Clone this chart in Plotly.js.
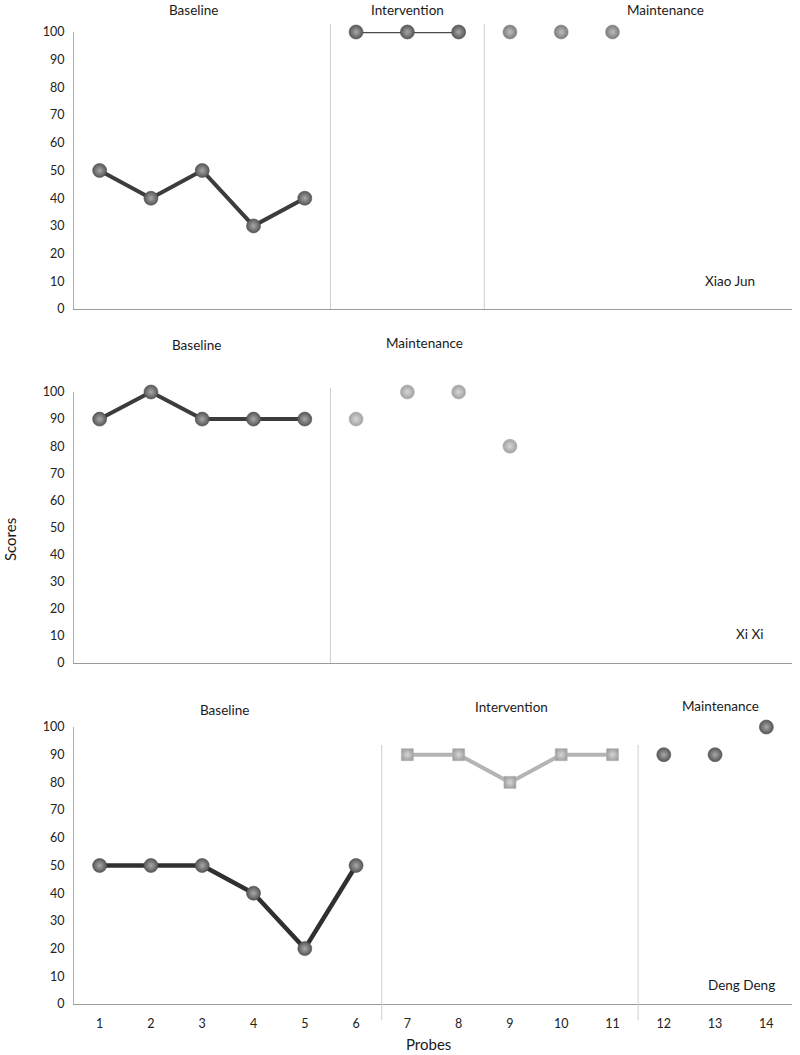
<!DOCTYPE html>
<html>
<head>
<meta charset="utf-8">
<script src="https://cdn.plot.ly/plotly-3.0.1.min.js"></script>
<style>html,body{margin:0;padding:0;background:#fff;}#chart{width:800px;height:1055px;}</style>
</head>
<body>
<div id="chart"></div>
<script>
// ---- Data ----
const probes = [1,2,3,4,5,6,7,8,9,10,11,12,13,14];
const probeLabels = ["1","2","3","4","5","6","7","8","9","10","11","12","13","14"];
const yTicks = [0,10,20,30,40,50,60,70,80,90,100];

// Xiao Jun
const xjBaselineX = [1,2,3,4,5];
const xjBaselineY = [50,40,50,30,40];
const xjInterventionX = [6,7,8];
const xjInterventionY = [100,100,100];
const xjMaintenanceX = [9,10,11];
const xjMaintenanceY = [100,100,100];

// Xi Xi
const xxBaselineX = [1,2,3,4,5];
const xxBaselineY = [90,100,90,90,90];
const xxMaintenanceX = [6,7,8,9];
const xxMaintenanceY = [90,100,100,80];

// Deng Deng
const ddBaselineX = [1,2,3,4,5,6];
const ddBaselineY = [50,50,50,40,20,50];
const ddInterventionX = [7,8,9,10,11];
const ddInterventionY = [90,90,80,90,90];
const ddMaintenanceX = [12,13,14];
const ddMaintenanceY = [90,90,100];

// Phase change positions
const xjPhaseLines = [5.5, 8.5];
const xxPhaseLines = [5.5];
const ddPhaseLines = [6.5, 11.5];

const names = ["Xiao Jun","Xi Xi","Deng Deng"];

// ---- Styles ----
const FONT = "Lato, 'Open Sans', sans-serif";
const darkMarker = {size:14, color:'#575757', gradient:{type:'radial', color:'#a8a8a8'}, line:{color:'#505050', width:0.6}};
const midMarker = {size:14, color:'#7c7c7c', gradient:{type:'radial', color:'#bdbdbd'}, line:{color:'#888', width:0.5}};
const lightMarker = {size:14, color:'#a2a2a2', gradient:{type:'radial', color:'#d6d6d6'}, line:{color:'#aaa', width:0.5}};

function tr(x, y, xa, ya, mode, line, marker) {
  const t = {x:x, y:y, xaxis:xa, yaxis:ya, mode:mode, marker:marker, cliponaxis:false, showlegend:false, hoverinfo:'x+y'};
  if (line) t.line = line;
  return t;
}

const traces = [
  tr(xjBaselineX, xjBaselineY, 'x', 'y', 'lines+markers', {color:'#3c3c3c', width:4}, darkMarker),
  tr(xjInterventionX, xjInterventionY, 'x', 'y', 'lines+markers', {color:'#4a4a4a', width:2.6}, darkMarker),
  tr(xjMaintenanceX, xjMaintenanceY, 'x', 'y', 'markers', null, midMarker),

  tr(xxBaselineX, xxBaselineY, 'x2', 'y2', 'lines+markers', {color:'#3c3c3c', width:4}, darkMarker),
  tr(xxMaintenanceX, xxMaintenanceY, 'x2', 'y2', 'markers', null, lightMarker),

  tr(ddBaselineX, ddBaselineY, 'x3', 'y3', 'lines+markers', {color:'#303030', width:4.5}, darkMarker),
  tr(ddInterventionX, ddInterventionY, 'x3', 'y3', 'lines+markers', {color:'#b4b4b4', width:4},
     Object.assign({}, lightMarker, {symbol:'square', size:12})),
  tr(ddMaintenanceX, ddMaintenanceY, 'x3', 'y3', 'markers', null, darkMarker)
];

const xDom = [74/800, 792/800];
function px(yPix) { return 1 - yPix/1055; }

function xAxis(anchor, showLabels) {
  return {
    domain: xDom, anchor: anchor, range:[0.5,14.5], showgrid:false, zeroline:false,
    showline:true, linecolor:'#9a9a9a', linewidth:1.2, ticks:'',
    tickmode:'array', tickvals: probes, ticktext: probeLabels,
    showticklabels: showLabels, ticklabelstandoff: 8,
    tickfont:{family:FONT, size:12.5, color:'#222'}, fixedrange:true
  };
}
function yAxis(anchor, dom) {
  return {
    domain: dom, anchor: anchor, range:[0,100], showgrid:false, zeroline:false,
    showline:true, linecolor:'#b0b0b0', linewidth:1, ticks:'',
    tickmode:'array', tickvals: yTicks, ticktext: yTicks.map(String),
    ticklabelstandoff: 6,
    tickfont:{family:FONT, size:12.5, color:'#222'}, fixedrange:true
  };
}

const shapes = [];
function phaseLines(arr, xref, y0, y1) {
  arr.forEach(v => shapes.push({type:'line', xref:xref, yref:'paper', x0:v, x1:v, y0:px(y1), y1:px(y0),
    line:{color:'#cfcfcf', width:1}}));
}
phaseLines(xjPhaseLines, 'x', 24, 309);
phaseLines(xxPhaseLines, 'x2', 388, 663);
phaseLines(ddPhaseLines, 'x3', 745, 1020);

const annotations = [];
function lbl(text, xp, yp, size, extra) {
  annotations.push(Object.assign({text:text, xref:'paper', yref:'paper', x:xp/800, y:px(yp),
    xanchor:'center', yanchor:'middle', showarrow:false,
    font:{family:FONT, size:size||13.5, color:'#1a1a1a'}}, extra||{}));
}
// Xiao Jun
lbl('Baseline', 193, 10);
lbl('Intervention', 407, 10);
lbl('Maintenance', 665, 10);
lbl(names[0], 730, 281);
// Xi Xi
lbl('Baseline', 196, 345);
lbl('Maintenance', 424, 343);
lbl(names[1], 749, 634);
// Deng Deng
lbl('Baseline', 224, 710);
lbl('Intervention', 511, 707);
lbl('Maintenance', 720, 706);
lbl(names[2], 741, 985);
// Axis titles
lbl('Scores', 10, 540, 15, {textangle:-90});
lbl('Probes', 428, 1044, 15);

const layout = {
  width:800, height:1055, margin:{l:0,r:0,t:0,b:0},
  paper_bgcolor:'#fff', plot_bgcolor:'#fff',
  font:{family:FONT, color:'#222'},
  xaxis: xAxis('y', false),
  yaxis: yAxis('x', [px(309), px(32)]),
  xaxis2: xAxis('y2', false),
  yaxis2: yAxis('x2', [px(663), px(392)]),
  xaxis3: xAxis('y3', true),
  yaxis3: yAxis('x3', [px(1004), px(727)]),
  shapes: shapes,
  annotations: annotations
};

Plotly.newPlot('chart', traces, layout, {displayModeBar:false, staticPlot:true});
</script>
</body>
</html>
